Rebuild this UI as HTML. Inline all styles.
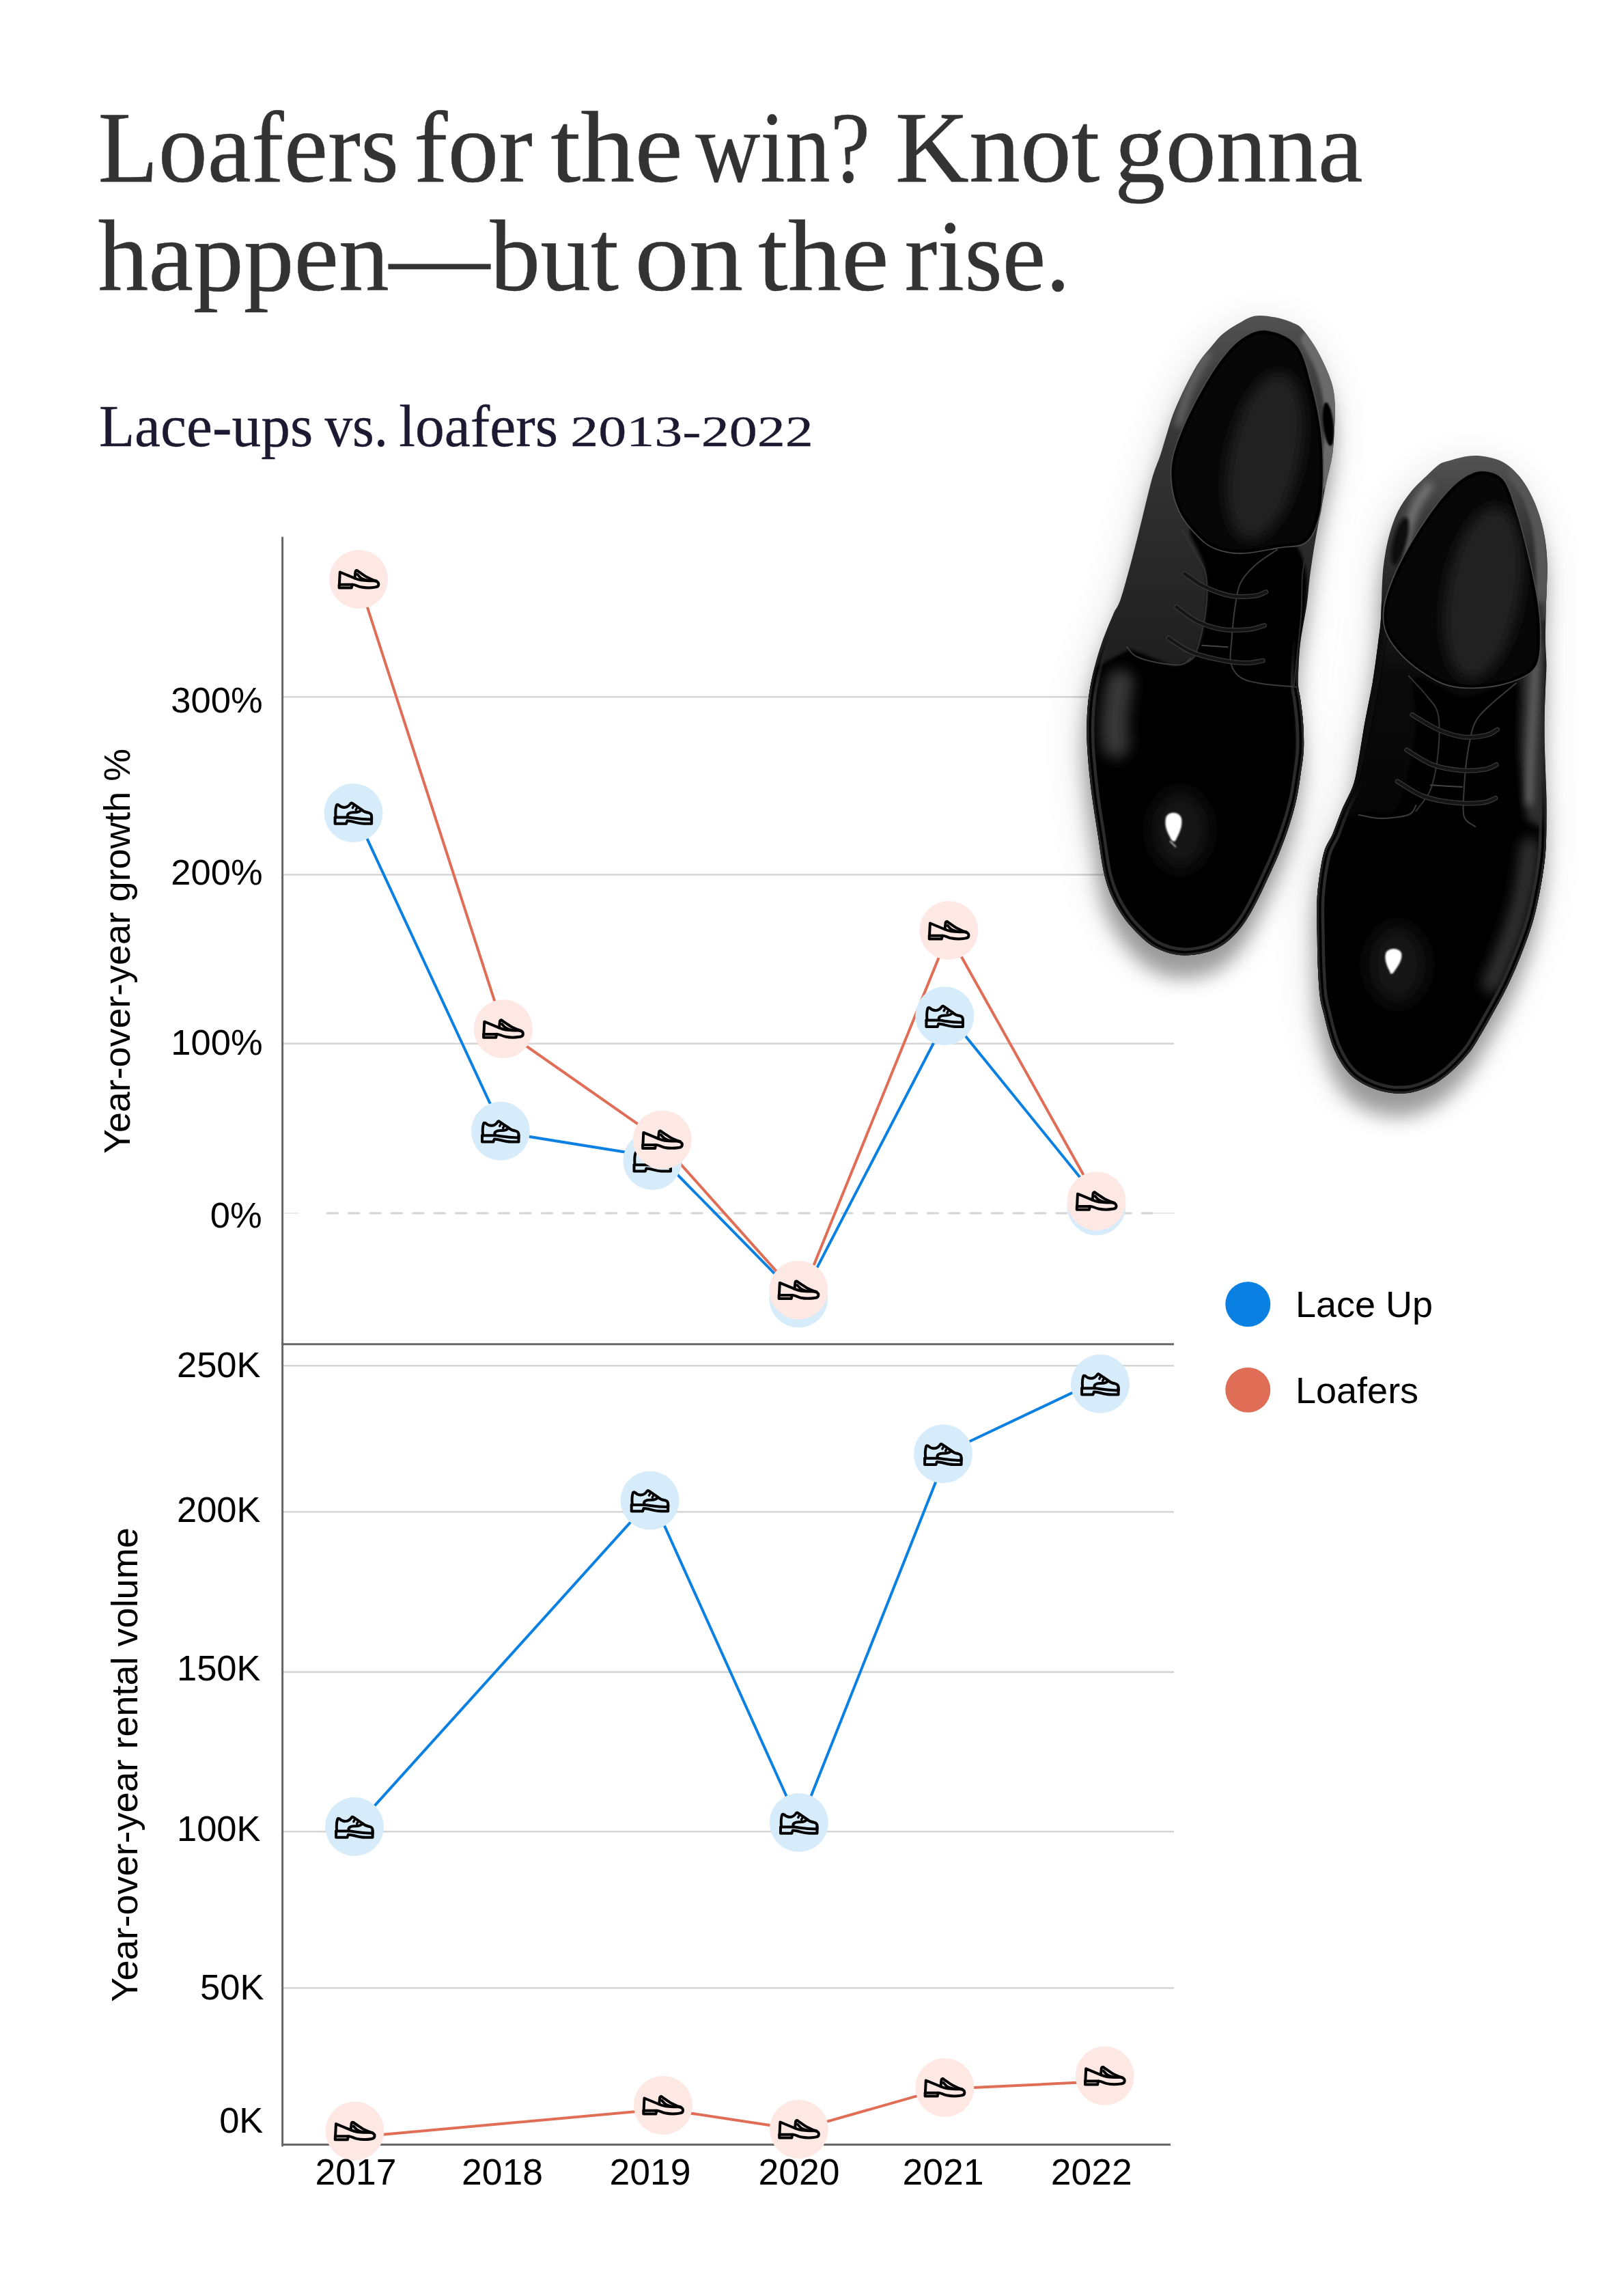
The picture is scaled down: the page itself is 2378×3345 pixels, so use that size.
<!DOCTYPE html>
<html lang="en"><head><meta charset="utf-8"><title>Loafers for the win? Knot gonna happen&#8212;but on the rise.</title>
<style>
html,body{margin:0;padding:0;background:#fff}
body{width:2378px;height:3345px;overflow:hidden;position:relative}
svg{position:absolute;left:0;top:0;display:block}
.sans{font-family:"Liberation Sans",Arial,Helvetica,sans-serif;fill:#000}
.serif{font-family:"Liberation Serif","Times New Roman",serif}
</style></head><body>
<svg width="2378" height="3345" viewBox="0 0 2378 3345">
<rect width="2378" height="3345" fill="#fff"/>
<g class="serif" fill="#333" stroke="#333" stroke-width="0.45" font-size="148">
<text y="266"><tspan x="143.6" textLength="440.5" lengthAdjust="spacingAndGlyphs">Loafers</tspan> <tspan x="605.7" textLength="174.2" lengthAdjust="spacingAndGlyphs">for</tspan> <tspan x="806.3" textLength="193.4" lengthAdjust="spacingAndGlyphs">the</tspan> <tspan x="1018.3" textLength="255.8" lengthAdjust="spacingAndGlyphs">win?</tspan> <tspan x="1310.8" textLength="299.6" lengthAdjust="spacingAndGlyphs">Knot</tspan> <tspan x="1632.1" textLength="363.6" lengthAdjust="spacingAndGlyphs">gonna</tspan></text>
<text y="424.6"><tspan x="143.6" textLength="762.4" lengthAdjust="spacingAndGlyphs">happen&#8212;but</tspan> <tspan x="929.6" textLength="158.7" lengthAdjust="spacingAndGlyphs">on</tspan> <tspan x="1110.1" textLength="191.6" lengthAdjust="spacingAndGlyphs">the</tspan> <tspan x="1324.8" textLength="242.2" lengthAdjust="spacingAndGlyphs">rise.</tspan></text>
</g>
<g class="serif" fill="#1d1930" stroke="#1d1930" stroke-width="0.35" font-size="86">
<text y="652.5"><tspan x="144.9" textLength="313.3" lengthAdjust="spacingAndGlyphs">Lace-ups</tspan> <tspan x="475.4" textLength="92.8" lengthAdjust="spacingAndGlyphs">vs.</tspan> <tspan x="584.2" textLength="232.9" lengthAdjust="spacingAndGlyphs">loafers</tspan> <tspan x="835.2" font-size="64" textLength="355.6" lengthAdjust="spacingAndGlyphs">2013-2022</tspan></text>
</g>
<g id="grid">
<line x1="414" x2="1719" y1="1020.3" y2="1020.3" stroke="#d5d5d5" stroke-width="2.6"/>
<line x1="414" x2="1719" y1="1280.5" y2="1280.5" stroke="#d5d5d5" stroke-width="2.6"/>
<line x1="414" x2="1719" y1="1527.8" y2="1527.8" stroke="#d5d5d5" stroke-width="2.6"/>
<line x1="416" x2="438" y1="1776" y2="1776" stroke="#ececec" stroke-width="2"/>
<line x1="479" x2="1690" y1="1776" y2="1776" stroke="#d5d5d5" stroke-width="3" stroke-dasharray="15.5 15.9" stroke-linecap="round"/>
<line x1="1690" x2="1719" y1="1776" y2="1776" stroke="#e8e8e8" stroke-width="2"/>
<line x1="414" x2="1719" y1="1999.3" y2="1999.3" stroke="#d5d5d5" stroke-width="2.6"/>
<line x1="414" x2="1719" y1="2213.2" y2="2213.2" stroke="#d5d5d5" stroke-width="2.6"/>
<line x1="414" x2="1719" y1="2447.6" y2="2447.6" stroke="#d5d5d5" stroke-width="2.6"/>
<line x1="414" x2="1719" y1="2681.3" y2="2681.3" stroke="#d5d5d5" stroke-width="2.6"/>
<line x1="414" x2="1719" y1="2910.2" y2="2910.2" stroke="#d5d5d5" stroke-width="2.6"/>
<line x1="413.6" x2="413.6" y1="787" y2="3141" stroke="#666" stroke-width="3" stroke-linecap="round"/>
<line x1="412" x2="1719" y1="1967.7" y2="1967.7" stroke="#666" stroke-width="3"/>
<line x1="412" x2="1714" y1="3139.5" y2="3139.5" stroke="#666" stroke-width="2.8"/>
</g>
<g id="shoes">
<defs><filter id="sh" x="-30%" y="-20%" width="160%" height="140%"><feGaussianBlur stdDeviation="14"/></filter><filter id="sh2" x="-40%" y="-20%" width="180%" height="140%"><feGaussianBlur stdDeviation="32"/></filter><filter id="b6" filterUnits="userSpaceOnUse" x="1450" y="380" width="928" height="1400"><feGaussianBlur stdDeviation="6"/></filter><filter id="b10" filterUnits="userSpaceOnUse" x="1450" y="380" width="928" height="1400"><feGaussianBlur stdDeviation="10"/></filter><filter id="b14" filterUnits="userSpaceOnUse" x="1450" y="380" width="928" height="1400"><feGaussianBlur stdDeviation="14"/></filter><filter id="b3" filterUnits="userSpaceOnUse" x="1450" y="380" width="928" height="1400"><feGaussianBlur stdDeviation="2.2"/></filter><filter id="b1" filterUnits="userSpaceOnUse" x="1450" y="380" width="928" height="1400"><feGaussianBlur stdDeviation="1.2"/></filter><linearGradient id="gL" gradientUnits="userSpaceOnUse" x1="0" y1="460" x2="0" y2="1100"><stop offset="0" stop-color="#525252"/><stop offset="0.2" stop-color="#3a3a3a"/><stop offset="0.5" stop-color="#2b2b2b"/><stop offset="0.8" stop-color="#1f1f1f"/><stop offset="1" stop-color="#101010"/></linearGradient><linearGradient id="gR" gradientUnits="userSpaceOnUse" x1="0" y1="670" x2="0" y2="1310"><stop offset="0" stop-color="#525252"/><stop offset="0.15" stop-color="#383838"/><stop offset="0.35" stop-color="#1e1e1e"/><stop offset="0.5" stop-color="#0a0a0a"/><stop offset="1" stop-color="#040404"/></linearGradient><path id="oL" d="M1837.6,462.5C1846.5,461.0 1858.0,462.9 1867.2,464.5C1876.4,466.1 1886.2,469.6 1892.8,472.4C1899.4,475.2 1901.0,475.1 1906.6,481.2C1912.2,487.3 1920.4,499.0 1926.3,508.8C1932.2,518.6 1937.8,530.4 1942.1,540.3C1946.4,550.1 1949.8,558.4 1951.9,567.9C1954.0,577.4 1954.6,587.6 1954.9,597.5C1955.2,607.4 1954.6,615.5 1953.9,627.0C1953.2,638.5 1952.9,653.3 1950.9,666.5C1948.9,679.7 1944.6,693.9 1942.0,706.4C1939.4,718.9 1937.5,729.9 1935.2,741.6C1933.0,753.3 1930.5,765.5 1928.5,776.8C1926.5,788.1 1924.8,797.6 1923.0,809.3C1921.2,821.0 1919.2,834.6 1917.6,847.2C1916.0,859.8 1915.7,870.0 1913.5,885.0C1911.3,900.0 1906.5,922.0 1904.5,937.0C1902.5,952.0 1902.1,963.8 1901.5,975.0C1900.9,986.2 1900.6,996.0 1901.0,1004.0C1901.4,1012.0 1902.9,1014.1 1904.1,1023.2C1905.3,1032.3 1907.3,1046.2 1908.1,1058.4C1908.9,1070.6 1909.5,1084.4 1909.0,1096.3C1908.5,1108.2 1906.8,1117.7 1905.0,1130.0C1903.2,1142.3 1901.4,1156.7 1898.4,1170.0C1895.5,1183.3 1891.6,1196.7 1887.3,1210.0C1883.0,1223.3 1878.0,1236.7 1872.5,1250.0C1867.0,1263.3 1859.9,1278.3 1854.5,1290.0C1849.1,1301.7 1844.8,1310.8 1840.0,1320.0C1835.2,1329.2 1830.8,1337.5 1826.0,1345.0C1821.2,1352.5 1816.2,1359.2 1811.0,1365.0C1805.8,1370.8 1800.5,1375.8 1795.0,1380.0C1789.5,1384.2 1784.2,1387.3 1778.0,1390.0C1771.8,1392.7 1765.2,1394.6 1758.0,1396.0C1750.8,1397.4 1742.5,1398.6 1735.0,1398.5C1727.5,1398.4 1720.5,1397.5 1713.0,1395.5C1705.5,1393.5 1697.0,1390.3 1690.0,1386.3C1683.0,1382.3 1677.9,1378.2 1670.9,1371.5C1663.9,1364.8 1654.7,1355.6 1647.8,1346.3C1640.9,1337.0 1634.4,1326.5 1629.3,1315.5C1624.2,1304.5 1620.6,1295.5 1617.0,1280.1C1613.4,1264.7 1610.9,1243.0 1607.8,1223.2C1604.7,1203.5 1601.1,1182.1 1598.5,1161.6C1595.9,1141.1 1593.6,1117.4 1592.4,1100.0C1591.2,1082.6 1591.2,1070.7 1591.5,1057.0C1591.8,1043.3 1592.7,1030.7 1594.5,1017.6C1596.3,1004.5 1599.1,991.3 1602.4,978.2C1605.7,965.1 1609.6,951.9 1614.2,938.8C1618.8,925.7 1625.5,909.8 1630.0,899.4C1634.5,889.0 1636.5,890.2 1641.1,876.5C1645.7,862.8 1652.5,837.0 1657.8,817.3C1663.0,797.6 1667.7,777.9 1672.6,758.2C1677.5,738.5 1683.0,714.4 1687.4,699.1C1691.8,683.8 1695.6,676.9 1699.0,666.5C1702.4,656.1 1704.9,646.9 1708.0,637.0C1711.1,627.1 1713.7,617.1 1717.4,607.3C1721.1,597.5 1725.4,587.9 1730.0,578.0C1734.6,568.1 1740.5,556.5 1745.0,548.2C1749.5,539.9 1752.4,534.6 1757.0,528.0C1761.6,521.4 1767.0,515.3 1772.6,508.8C1778.1,502.3 1783.4,495.0 1790.3,489.1C1797.2,483.2 1806.1,477.7 1814.0,473.3C1821.9,468.9 1828.7,464.0 1837.6,462.5Z"/><path id="oR" d="M2117.9,675.6C2125.2,673.4 2139.7,668.9 2149.5,667.7C2159.3,666.6 2168.1,667.1 2177.0,668.7C2185.9,670.4 2194.5,672.5 2202.7,677.6C2210.9,682.7 2219.4,690.8 2226.3,699.3C2233.2,707.8 2239.1,718.6 2244.0,728.8C2248.9,739.0 2252.8,749.8 2255.9,760.3C2259.0,770.8 2261.2,780.7 2262.8,791.9C2264.4,803.1 2265.4,814.8 2265.7,827.3C2266.0,839.8 2265.0,856.2 2264.7,866.7C2264.4,877.2 2264.0,878.1 2263.7,890.0C2263.4,901.9 2262.9,924.1 2263.0,938.0C2263.1,951.9 2264.4,961.5 2264.4,973.2C2264.4,985.0 2263.4,996.3 2263.0,1008.5C2262.6,1020.7 2261.9,1033.3 2261.7,1046.4C2261.5,1059.5 2261.5,1073.5 2261.7,1087.0C2261.9,1100.5 2262.6,1114.2 2263.0,1127.7C2263.4,1141.2 2264.2,1155.5 2264.4,1168.3C2264.6,1181.0 2264.7,1190.6 2264.4,1204.2C2264.2,1217.8 2264.4,1234.0 2262.9,1250.0C2261.4,1266.0 2258.7,1283.5 2255.6,1300.0C2252.5,1316.5 2249.4,1332.6 2244.5,1349.3C2239.6,1366.0 2232.7,1384.2 2226.4,1400.0C2220.2,1415.8 2214.2,1429.5 2207.0,1444.3C2199.8,1459.1 2191.0,1474.4 2183.0,1488.7C2175.0,1503.0 2164.8,1520.7 2159.0,1530.0C2153.2,1539.3 2152.1,1539.9 2148.0,1544.8C2143.9,1549.7 2139.5,1554.7 2134.6,1559.6C2129.7,1564.5 2124.8,1569.4 2118.4,1574.3C2112.0,1579.2 2104.6,1585.0 2096.2,1589.1C2087.8,1593.2 2076.9,1597.1 2068.0,1599.0C2059.1,1600.9 2050.8,1600.8 2043.0,1600.4C2035.2,1600.0 2028.0,1598.6 2021.0,1596.7C2014.0,1594.8 2007.9,1592.6 2001.3,1589.3C1994.7,1586.0 1987.5,1582.1 1981.6,1577.0C1975.6,1571.9 1970.4,1565.7 1965.6,1558.5C1960.8,1551.3 1956.1,1542.1 1952.6,1533.9C1949.1,1525.7 1946.9,1517.5 1944.6,1509.3C1942.2,1501.1 1940.5,1492.8 1938.5,1484.6C1936.5,1476.4 1934.3,1470.8 1932.9,1460.0C1931.5,1449.2 1930.7,1434.5 1930.0,1420.0C1929.3,1405.5 1929.0,1391.3 1928.8,1373.2C1928.6,1355.1 1927.3,1332.1 1928.8,1311.6C1930.3,1291.1 1934.2,1265.2 1938.0,1250.0C1941.8,1234.8 1947.0,1231.2 1951.5,1220.4C1956.0,1209.6 1960.0,1196.9 1965.0,1185.2C1970.0,1173.5 1977.3,1161.5 1981.3,1150.0C1985.2,1138.5 1985.8,1132.0 1988.7,1116.5C1991.6,1101.0 1995.0,1077.0 1998.5,1057.3C2002.0,1037.6 2006.7,1017.9 2010.0,998.2C2013.3,978.5 2016.2,954.6 2018.2,939.1C2020.2,923.6 2021.0,920.9 2022.0,905.5C2023.0,890.1 2023.2,862.6 2024.3,847.0C2025.3,831.4 2026.5,822.8 2028.3,811.6C2030.1,800.4 2032.1,790.5 2035.2,780.0C2038.3,769.5 2041.8,758.7 2047.0,748.5C2052.2,738.3 2059.5,727.9 2066.7,719.0C2073.9,710.1 2083.8,701.6 2090.3,695.3C2096.9,689.0 2101.4,684.3 2106.0,681.0C2110.6,677.7 2110.7,677.8 2117.9,675.6Z"/><path id="pL" d="M1855.3,484.2C1868.4,486.0 1887.9,492.3 1898.7,505.9C1909.5,519.4 1914.4,544.3 1920.3,565.5C1926.2,586.7 1931.2,610.6 1933.9,633.2C1936.6,655.8 1937.0,680.6 1936.6,700.9C1936.1,721.2 1935.3,739.8 1931.2,755.1C1927.1,770.5 1922.1,785.3 1912.2,793.0C1902.3,800.7 1887.4,798.5 1871.6,801.2C1855.8,803.9 1833.2,809.3 1817.4,809.3C1801.6,809.3 1788.0,806.2 1776.7,801.2C1765.4,796.2 1757.8,788.1 1749.7,779.5C1741.6,770.9 1733.4,760.5 1728.0,749.7C1722.6,738.9 1718.9,727.1 1717.1,714.5C1715.3,701.9 1714.4,688.7 1717.1,673.8C1719.8,658.9 1726.2,642.2 1733.4,625.1C1740.6,608.0 1751.0,587.6 1760.5,570.9C1770.0,554.2 1780.4,537.4 1790.3,524.8C1800.2,512.1 1809.3,501.8 1820.1,495.0C1830.9,488.2 1842.2,482.4 1855.3,484.2Z"/><path id="pR" d="M2170.9,690.1C2180.4,690.6 2192.6,692.6 2200.7,702.3C2208.9,712.0 2213.8,730.8 2219.7,748.4C2225.6,766.0 2231.0,787.7 2236.0,808.0C2240.9,828.3 2246.3,850.9 2249.5,870.3C2252.7,889.7 2254.9,907.3 2254.9,924.5C2254.9,941.6 2255.4,961.5 2249.5,973.2C2243.6,985.0 2232.8,989.5 2219.7,994.9C2206.6,1000.3 2187.2,1004.4 2170.9,1005.8C2154.7,1007.1 2136.6,1006.7 2122.2,1003.0C2107.7,999.4 2096.0,991.8 2084.2,984.1C2072.5,976.4 2060.8,966.9 2051.7,957.0C2042.7,947.1 2034.1,935.8 2030.0,924.5C2026.0,913.2 2025.5,902.3 2027.3,889.3C2029.1,876.2 2035.0,860.4 2040.9,845.9C2046.8,831.5 2054.4,817.0 2062.6,802.6C2070.7,788.1 2080.6,772.3 2089.7,759.2C2098.7,746.1 2107.7,733.9 2116.7,724.0C2125.8,714.1 2134.8,705.2 2143.8,699.6C2152.9,694.0 2161.4,689.7 2170.9,690.1Z"/><clipPath id="cl"><use href="#oL"/></clipPath><clipPath id="cr"><use href="#oR"/></clipPath><clipPath id="col"><use href="#pL"/></clipPath><clipPath id="cor"><use href="#pR"/></clipPath></defs>
<use href="#oL" fill="#000" opacity="0.13" filter="url(#sh2)" transform="translate(-6,14)"/>
<use href="#oL" fill="#000" opacity="0.34" filter="url(#sh)" transform="translate(-3,34)"/>
<use href="#oL" fill="url(#gL)"/>
<g clip-path="url(#cl)"><path d="M1743.8,774.0C1752.4,770.9 1790.6,804.5 1814.0,806.8C1837.4,809.1 1867.8,783.0 1884.2,788.1C1900.5,793.1 1908.3,814.6 1912.2,837.2C1916.1,859.8 1910.3,897.7 1907.6,923.8C1904.8,949.9 1898.6,967.9 1895.9,994.0C1893.1,1020.0 1932.1,1065.7 1891.2,1080.1C1850.2,1094.4 1689.2,1096.4 1650.2,1080.1C1611.2,1063.8 1643.6,999.4 1657.2,982.3C1670.9,965.2 1715.3,985.0 1732.1,977.6C1748.9,970.2 1752.0,954.6 1757.8,937.8C1763.7,921.1 1766.4,895.7 1767.2,877.0C1768.0,858.3 1766.4,842.7 1762.5,825.5C1758.6,808.4 1735.2,777.2 1743.8,774.0Z" fill="#050505" filter="url(#b3)"/><path d="M1580,990 L1655,950 L1720,976 L1760,960 L1905,1003 L1930,1000 L1930,1420 L1580,1420 Z" fill="#040404" filter="url(#b3)"/><path d="M1640.0,1000.0C1639.0,1005.8 1635.3,1024.2 1634.0,1035.0C1632.7,1045.8 1632.0,1055.8 1632.0,1065.0C1632.0,1074.2 1633.7,1085.8 1634.0,1090.0" fill="none" stroke="#383838" stroke-width="40" stroke-linecap="round" filter="url(#b10)"/><path d="M1899.0,1010.0C1899.7,1018.3 1902.3,1043.3 1903.0,1060.0C1903.7,1076.7 1903.8,1093.3 1903.0,1110.0C1902.2,1126.7 1898.8,1151.7 1898.0,1160.0" fill="none" stroke="#3c3c3c" stroke-width="9" filter="url(#b3)"/><path d="M1768.0,518.0C1765.0,523.3 1755.3,538.8 1750.0,550.0C1744.7,561.2 1740.0,573.3 1736.0,585.0C1732.0,596.7 1727.7,614.2 1726.0,620.0" fill="none" stroke="#707070" stroke-width="9" stroke-linecap="round" filter="url(#b6)"/><path d="M1916.0,497.0C1919.0,502.5 1929.2,518.7 1934.0,530.0C1938.8,541.3 1942.3,553.3 1945.0,565.0C1947.7,576.7 1949.2,587.5 1950.0,600.0C1950.8,612.5 1950.8,627.5 1950.0,640.0C1949.2,652.5 1947.0,664.2 1945.0,675.0C1943.0,685.8 1939.2,700.0 1938.0,705.0" fill="none" stroke="#6a6a6a" stroke-width="22" stroke-linecap="round" filter="url(#b3)"/><ellipse cx="1945" cy="621" rx="7.5" ry="32" fill="#000" transform="rotate(-6 1945 621)" filter="url(#b1)"/>
<linearGradient id="fdL" gradientUnits="userSpaceOnUse" x1="0" y1="930" x2="0" y2="1020"><stop offset="0" stop-color="#000"/><stop offset="1" stop-color="#fff"/></linearGradient><mask id="rimL" maskUnits="userSpaceOnUse" x="1500" y="400" width="900" height="1300"><rect x="1500" y="400" width="900" height="1300" fill="url(#fdL)"/></mask>
<g mask="url(#rimL)" fill="none"><use href="#oL" stroke="#2b2b2b" stroke-width="22"/><use href="#oL" stroke="#000" stroke-width="13"/><use href="#oL" stroke="#242424" stroke-width="6"/></g>
<ellipse cx="1728" cy="1215" rx="42" ry="58" fill="#1c1c1c" filter="url(#b14)" opacity="0.8"/><path d="M1707,1198 C1709,1187 1727,1187 1730,1198 C1732,1209 1727,1219 1723,1227 C1721,1234 1716,1233 1713,1225 C1708,1216 1705,1207 1707,1198Z" fill="#fff" filter="url(#b1)"/><path d="M1713,1231 L1722,1240" stroke="#bbb" stroke-width="2" filter="url(#b1)"/>
</g>
<use href="#pL" fill="#070707" stroke="#4a4a4a" stroke-width="3.5"/>
<g clip-path="url(#col)"><use href="#pL" fill="none" stroke="#000" stroke-width="9"/><ellipse cx="1852" cy="668" rx="52" ry="124" transform="rotate(12 1852 668)" fill="#242424" filter="url(#b10)"/></g>
<path d="M1650.2,947.2C1652.5,949.5 1656.4,957.3 1664.2,961.2C1672.0,965.1 1686.1,968.6 1697.0,970.6C1707.9,972.5 1721.9,974.1 1729.7,972.9C1737.5,971.7 1741.4,965.1 1743.8,963.6" fill="none" stroke="#3c3c3c" stroke-width="2" stroke-linecap="round"/><path d="M1729.7,774.0C1732.9,779.5 1742.6,796.3 1748.5,806.8C1754.3,817.3 1761.7,825.5 1764.8,837.2C1768.0,848.9 1768.0,862.6 1767.2,877.0C1766.4,891.4 1763.3,909.7 1760.2,923.8C1757.0,937.8 1753.5,953.0 1748.5,961.2C1743.4,969.4 1732.9,971.0 1729.7,972.9" fill="none" stroke="#333" stroke-width="2" stroke-linecap="round"/><path d="M1870.1,804.5C1864.7,808.4 1846.3,819.7 1837.4,827.9C1828.4,836.0 1821.2,843.1 1816.3,853.6C1811.4,864.1 1810.3,877.0 1808.1,891.0C1806.0,905.1 1804.4,924.6 1803.4,937.8C1802.5,951.1 1800.1,961.6 1802.3,970.6C1804.4,979.5 1808.5,986.6 1816.3,991.6C1824.1,996.7 1835.4,998.7 1849.1,1001.0C1862.7,1003.3 1890.0,1004.9 1898.2,1005.7" fill="none" stroke="#3a3a3a" stroke-width="2" stroke-linecap="round"/><path d="M1916.9,795.1C1915.4,802.1 1909.5,819.7 1907.6,837.2C1905.6,854.8 1906.8,878.2 1905.2,900.4C1903.7,922.6 1900.0,953.0 1898.2,970.6C1896.4,988.1 1895.3,999.8 1894.7,1005.7" fill="none" stroke="#2a2a2a" stroke-width="2" stroke-linecap="round"/><path d="M1734.4,839.6C1739.1,842.7 1751.2,852.8 1762.5,858.3C1773.8,863.7 1789.8,870.0 1802.3,872.3C1814.8,874.6 1828.8,873.3 1837.4,872.3C1845.9,871.3 1851.0,867.4 1853.7,866.5" fill="none" stroke="#3a3a3a" stroke-width="7" stroke-linecap="round"/><path d="M1734.4,839.6C1739.1,842.7 1751.2,852.8 1762.5,858.3C1773.8,863.7 1789.8,870.0 1802.3,872.3C1814.8,874.6 1828.8,873.3 1837.4,872.3C1845.9,871.3 1851.0,867.4 1853.7,866.5" fill="none" stroke="#151515" stroke-width="4.5" stroke-linecap="round"/><path d="M1722.7,888.7C1727.8,892.2 1741.8,904.3 1753.1,909.7C1764.4,915.2 1778.1,919.5 1790.6,921.4C1803.1,923.4 1817.9,922.4 1828.0,921.4C1838.2,920.5 1847.5,916.6 1851.4,915.6" fill="none" stroke="#3a3a3a" stroke-width="7" stroke-linecap="round"/><path d="M1722.7,888.7C1727.8,892.2 1741.8,904.3 1753.1,909.7C1764.4,915.2 1778.1,919.5 1790.6,921.4C1803.1,923.4 1817.9,922.4 1828.0,921.4C1838.2,920.5 1847.5,916.6 1851.4,915.6" fill="none" stroke="#151515" stroke-width="4.5" stroke-linecap="round"/><path d="M1711.0,934.3C1716.5,937.6 1731.3,948.9 1743.8,954.2C1756.3,959.5 1772.6,963.2 1785.9,965.9C1799.2,968.6 1812.8,970.4 1823.3,970.6C1833.9,970.8 1844.8,967.7 1849.1,967.1" fill="none" stroke="#3a3a3a" stroke-width="7" stroke-linecap="round"/><path d="M1711.0,934.3C1716.5,937.6 1731.3,948.9 1743.8,954.2C1756.3,959.5 1772.6,963.2 1785.9,965.9C1799.2,968.6 1812.8,970.4 1823.3,970.6C1833.9,970.8 1844.8,967.7 1849.1,967.1" fill="none" stroke="#151515" stroke-width="4.5" stroke-linecap="round"/><path d="M1760.2,944.8C1766.4,945.2 1791.4,946.8 1797.6,947.2" fill="none" stroke="#444" stroke-width="2" stroke-linecap="round"/>
<use href="#oR" fill="#000" opacity="0.13" filter="url(#sh2)" transform="translate(-6,14)"/>
<use href="#oR" fill="#000" opacity="0.34" filter="url(#sh)" transform="translate(-3,34)"/>
<use href="#oR" fill="url(#gR)"/>
<g clip-path="url(#cr)"><path d="M2073.4,992.2C2085.1,985.4 2119.5,1017.9 2143.8,1019.3C2168.2,1020.7 2201.6,995.8 2219.7,1000.3C2237.8,1004.9 2247.2,1025.2 2252.2,1046.4C2257.2,1067.6 2250.0,1100.4 2249.5,1127.7C2249.0,1154.9 2249.5,1178.4 2249.5,1210.0C2249.5,1241.6 2296.5,1299.4 2249.5,1317.3C2202.5,1335.2 2011.1,1337.6 1967.7,1317.3C1924.4,1297.0 1977.2,1217.1 1989.4,1195.4C2001.6,1173.7 2028.7,1198.6 2040.9,1187.3C2053.1,1176.0 2057.1,1148.9 2062.6,1127.7C2068.0,1106.4 2071.6,1082.5 2073.4,1059.9C2075.2,1037.4 2061.7,999.0 2073.4,992.2Z" fill="#050505" filter="url(#b3)"/><path d="M1900,1230 L1990,1190 L2040,1200 L2100,1190 L2240,1210 L2290,1200 L2290,1620 L1900,1620 Z" fill="#040404" filter="url(#b3)"/><path d="M2027.3,883.8C2026.0,895.1 2022.4,929.0 2019.2,951.6C2016.0,974.1 2012.4,996.7 2008.4,1019.3C2004.3,1041.9 1999.8,1064.5 1994.8,1087.0C1989.9,1109.6 1984.4,1134.4 1978.6,1154.8C1972.7,1175.1 1962.8,1199.9 1959.6,1209.0" fill="none" stroke="#101010" stroke-width="14" filter="url(#b3)"/><path d="M2092.0,712.0C2089.0,716.7 2079.0,729.5 2074.0,740.0C2069.0,750.5 2065.0,763.3 2062.0,775.0C2059.0,786.7 2057.0,804.2 2056.0,810.0" fill="none" stroke="#7a7a7a" stroke-width="12" stroke-linecap="round" filter="url(#b6)"/><ellipse cx="2050" cy="792" rx="10" ry="36" fill="#0a0a0a" transform="rotate(14 2050 792)" filter="url(#b3)"/><path d="M2216.0,692.0C2219.7,697.7 2232.2,713.8 2238.0,726.0C2243.8,738.2 2247.8,751.0 2251.0,765.0C2254.2,779.0 2255.8,794.2 2257.0,810.0C2258.2,825.8 2258.2,845.0 2258.0,860.0C2257.8,875.0 2256.3,893.3 2256.0,900.0" fill="none" stroke="#555" stroke-width="18" stroke-linecap="round" filter="url(#b3)"/><path d="M2240.0,1240.0C2239.0,1248.3 2237.2,1272.5 2234.0,1290.0C2230.8,1307.5 2226.2,1327.5 2221.0,1345.0C2215.8,1362.5 2209.2,1379.2 2203.0,1395.0C2196.8,1410.8 2187.2,1432.5 2184.0,1440.0" fill="none" stroke="#363636" stroke-width="26" stroke-linecap="round" filter="url(#b10)"/><path d="M2215,890 L2262,880 L2266,1215 L2235,1200 L2225,1100 L2228,980 Z" fill="#2e2e2e" filter="url(#b6)"/><path d="M2249.0,945.0C2248.7,954.2 2247.8,980.8 2247.0,1000.0C2246.2,1019.2 2245.0,1040.0 2244.0,1060.0C2243.0,1080.0 2241.8,1100.8 2241.0,1120.0C2240.2,1139.2 2239.3,1165.8 2239.0,1175.0" fill="none" stroke="#707070" stroke-width="9" stroke-linecap="round" filter="url(#b6)"/>
<linearGradient id="fdR" gradientUnits="userSpaceOnUse" x1="0" y1="1140" x2="0" y2="1230"><stop offset="0" stop-color="#000"/><stop offset="1" stop-color="#fff"/></linearGradient><mask id="rimR" maskUnits="userSpaceOnUse" x="1500" y="400" width="900" height="1300"><rect x="1500" y="400" width="900" height="1300" fill="url(#fdR)"/></mask>
<g mask="url(#rimR)" fill="none"><use href="#oR" stroke="#2b2b2b" stroke-width="22"/><use href="#oR" stroke="#000" stroke-width="13"/><use href="#oR" stroke="#242424" stroke-width="6"/></g>
<ellipse cx="2046" cy="1412" rx="42" ry="58" fill="#1c1c1c" filter="url(#b14)" opacity="0.8"/><path d="M2029,1396 C2032,1387 2048,1387 2052,1395 C2054,1404 2048,1413 2043,1420 C2040,1426 2036,1428 2035,1422 C2030,1413 2027,1404 2029,1396Z" fill="#fff" filter="url(#b1)"/>
</g>
<use href="#pR" fill="#070707" stroke="#4a4a4a" stroke-width="3.5"/>
<g clip-path="url(#cor)"><use href="#pR" fill="none" stroke="#000" stroke-width="9"/><ellipse cx="2172" cy="868" rx="54" ry="128" transform="rotate(10 2172 868)" fill="#242424" filter="url(#b10)"/></g>
<path d="M1989.4,1192.7C1994.8,1193.6 2009.7,1198.1 2021.9,1198.1C2034.1,1198.1 2054.0,1195.9 2062.6,1192.7C2071.1,1189.5 2071.6,1181.4 2073.4,1179.1" fill="none" stroke="#3c3c3c" stroke-width="2" stroke-linecap="round"/><path d="M2062.6,989.5C2067.1,994.5 2082.4,1009.8 2089.7,1019.3C2096.9,1028.8 2103.2,1032.8 2105.9,1046.4C2108.6,1059.9 2107.7,1082.5 2105.9,1100.6C2104.1,1118.6 2100.5,1140.3 2095.1,1154.8C2089.7,1169.2 2077.0,1181.9 2073.4,1187.3" fill="none" stroke="#333" stroke-width="2" stroke-linecap="round"/><path d="M2219.7,1000.3C2213.8,1005.3 2194.4,1020.7 2184.5,1030.1C2174.5,1039.6 2166.0,1045.5 2160.1,1057.2C2154.2,1069.0 2152.0,1084.3 2149.3,1100.6C2146.5,1116.8 2144.7,1139.0 2143.8,1154.8C2142.9,1170.6 2141.1,1186.2 2143.8,1195.4C2146.5,1204.6 2157.4,1207.6 2160.1,1210.0" fill="none" stroke="#3a3a3a" stroke-width="2" stroke-linecap="round"/><path d="M2068.0,1046.4C2074.3,1050.0 2093.3,1062.6 2105.9,1068.1C2118.5,1073.5 2132.1,1077.6 2143.8,1078.9C2155.6,1080.3 2168.2,1078.0 2176.3,1076.2C2184.5,1074.4 2189.9,1069.4 2192.6,1068.1" fill="none" stroke="#3a3a3a" stroke-width="7" stroke-linecap="round"/><path d="M2068.0,1046.4C2074.3,1050.0 2093.3,1062.6 2105.9,1068.1C2118.5,1073.5 2132.1,1077.6 2143.8,1078.9C2155.6,1080.3 2168.2,1078.0 2176.3,1076.2C2184.5,1074.4 2189.9,1069.4 2192.6,1068.1" fill="none" stroke="#151515" stroke-width="4.5" stroke-linecap="round"/><path d="M2059.8,1097.9C2066.2,1101.5 2084.7,1114.6 2097.8,1119.5C2110.9,1124.5 2125.8,1126.5 2138.4,1127.7C2151.1,1128.8 2164.8,1127.7 2173.6,1126.3C2182.4,1125.0 2188.3,1120.7 2191.2,1119.5" fill="none" stroke="#3a3a3a" stroke-width="7" stroke-linecap="round"/><path d="M2059.8,1097.9C2066.2,1101.5 2084.7,1114.6 2097.8,1119.5C2110.9,1124.5 2125.8,1126.5 2138.4,1127.7C2151.1,1128.8 2164.8,1127.7 2173.6,1126.3C2182.4,1125.0 2188.3,1120.7 2191.2,1119.5" fill="none" stroke="#151515" stroke-width="4.5" stroke-linecap="round"/><path d="M2046.3,1143.9C2052.6,1147.5 2070.2,1160.4 2084.2,1165.6C2098.2,1170.8 2115.8,1173.5 2130.3,1175.1C2144.7,1176.7 2161.0,1176.2 2170.9,1175.1C2180.9,1174.0 2186.7,1169.4 2189.9,1168.3" fill="none" stroke="#3a3a3a" stroke-width="7" stroke-linecap="round"/><path d="M2046.3,1143.9C2052.6,1147.5 2070.2,1160.4 2084.2,1165.6C2098.2,1170.8 2115.8,1173.5 2130.3,1175.1C2144.7,1176.7 2161.0,1176.2 2170.9,1175.1C2180.9,1174.0 2186.7,1169.4 2189.9,1168.3" fill="none" stroke="#151515" stroke-width="4.5" stroke-linecap="round"/><path d="M2095.1,1149.3C2102.7,1149.8 2133.5,1151.6 2141.1,1152.1" fill="none" stroke="#444" stroke-width="2" stroke-linecap="round"/>
</g>
<g id="lines"><polyline points="522.5,1195.4 737.3,1657.9 967.9,1695.0 1171.9,1902.8 1388.5,1485.6 1610.0,1758.7" fill="none" stroke="#0b80e3" stroke-width="4" stroke-linejoin="round"/><polyline points="530.0,864.5 738.2,1508.6 961.3,1664.7 1172.0,1900.3 1388.9,1366.8 1608.0,1758.2" fill="none" stroke="#e06d55" stroke-width="4" stroke-linejoin="round"/><polyline points="524.0,2670.6 954.8,2193.3 1170.7,2671.8 1387.7,2125.3 1616.0,2017.1" fill="none" stroke="#0b80e3" stroke-width="4" stroke-linejoin="round"/><polyline points="519.5,3128.6 971.0,3087.5 1169.1,3117.6 1378.4,3058.2 1617.7,3046.8" fill="none" stroke="#e06d55" stroke-width="4" stroke-linejoin="round"/></g>
<g id="marks"><defs><g id="lace" fill="none" stroke="#000" stroke-width="4" stroke-linejoin="round" stroke-linecap="round"><path d="M-25.8,6 C-26.4,0 -26.4,-6 -24.8,-11 Q-24.1,-12.8 -22,-11.8 C-17,-6.5 -9,-6.5 -4.6,-13 Q-3.2,-15.2 -1.6,-14 L11.8,-4.8 C15,-2 19,-0.6 22,-0.2 Q26.6,0.8 26.6,5.5 V9"/><path d="M-26.9,6.4 H-8 C0,7 8,9.8 26.6,9.6"/><path d="M-26.9,6.4 V15.7 H-10.6 L-9,11.6 C-1,11.8 5,15.7 16,15.7 H26.6 V6"/><path d="M-8,5.6 C-10,1.5 -6,-0.7 0,-0.8 C6,-0.6 10,-1.5 11.8,-4.8"/><path d="M-0.2,-9.2 L-1.2,-7.4 M4.6,-6.2 L3.6,-4.4" stroke-width="3.4"/></g><g id="loaf" fill="none" stroke="#000" stroke-width="4" stroke-linejoin="round" stroke-linecap="round"><path d="M-27.5,-10.5 L-5.8,-1.5 C0,1 9,2.8 20.9,2 C26,2.4 29.1,4.5 29.1,7 C29.1,10 27,11.4 24,11.6 C18,12.6 9,12.6 3,11.3 C-3,9.8 -5,7.7 -9.4,7.7 L-28.4,7.7 Z"/><path d="M-28.7,7.7 V12.6 H-10.6 L-9.4,7.7"/><path d="M-5.8,-1.5 L-4.9,-10.8 Q-4.4,-13.6 -2.2,-12.6"/><path d="M-2.2,-12.6C-1.2,-11.9 1.3,-10.2 3.7,-8.6C6.1,-7.0 9.4,-4.5 12.3,-2.9C15.2,-1.3 18.6,0.1 20.9,1.0C23.2,1.9 25.2,2.3 26.1,2.6"/><path d="M-1.9,-7.1C-1.1,-6.3 1.1,-3.5 2.8,-2.2C4.5,-1.0 6.4,-0.2 8.0,0.4C9.7,1.1 11.9,1.5 12.7,1.7"/></g></defs><g transform="translate(517.5,1190.0)"><circle r="43" fill="#d6ecfb"/><use href="#lace"/></g><g transform="translate(732.9,1655.8)"><circle r="43" fill="#d6ecfb"/><use href="#lace"/></g><g transform="translate(955.4,1698.9)"><circle r="43" fill="#d6ecfb"/><use href="#lace"/></g><g transform="translate(1169.3,1900.5)"><circle r="43" fill="#d6ecfb"/><use href="#lace"/></g><g transform="translate(1383.3,1487.2)"><circle r="43" fill="#d6ecfb"/><use href="#lace"/></g><g transform="translate(1605.5,1765.4)"><circle r="43" fill="#d6ecfb"/><use href="#lace"/></g><g transform="translate(525.3,848.0)"><circle r="43" fill="#fee8e3"/><use href="#loaf"/></g><g transform="translate(736.8,1506.2)"><circle r="43" fill="#fee8e3"/><use href="#loaf"/></g><g transform="translate(969.8,1668.4)"><circle r="43" fill="#fee8e3"/><use href="#loaf"/></g><g transform="translate(1169.3,1888.4)"><circle r="43" fill="#fee8e3"/><use href="#loaf"/></g><g transform="translate(1389.4,1362.0)"><circle r="43" fill="#fee8e3"/><use href="#loaf"/></g><g transform="translate(1605.5,1758.2)"><circle r="43" fill="#fee8e3"/><use href="#loaf"/></g><g transform="translate(519.0,2674.1)"><circle r="43" fill="#d6ecfb"/><use href="#lace"/></g><g transform="translate(951.6,2196.5)"><circle r="43" fill="#d6ecfb"/><use href="#lace"/></g><g transform="translate(1169.9,2668.0)"><circle r="43" fill="#d6ecfb"/><use href="#lace"/></g><g transform="translate(1381.0,2128.3)"><circle r="43" fill="#d6ecfb"/><use href="#lace"/></g><g transform="translate(1611.0,2025.8)"><circle r="43" fill="#d6ecfb"/><use href="#lace"/></g><g transform="translate(519.5,3119.6)"><circle r="43" fill="#fee8e3"/><use href="#loaf"/></g><g transform="translate(971.0,3082.0)"><circle r="43" fill="#fee8e3"/><use href="#loaf"/></g><g transform="translate(1169.9,3117.0)"><circle r="43" fill="#fee8e3"/><use href="#loaf"/></g><g transform="translate(1383.3,3056.0)"><circle r="43" fill="#fee8e3"/><use href="#loaf"/></g><g transform="translate(1617.7,3038.8)"><circle r="43" fill="#fee8e3"/><use href="#loaf"/></g></g>
<g class="sans">
<text x="384.6" y="1043.4" text-anchor="end" font-size="52.5">300%</text>
<text x="384.6" y="1295.3" text-anchor="end" font-size="52.5">200%</text>
<text x="384.6" y="1544.3" text-anchor="end" font-size="52.5">100%</text>
<text x="383.7" y="1796.5" text-anchor="end" font-size="52.5">0%</text>
<text x="381.6" y="2016" text-anchor="end" font-size="52.5">250K</text>
<text x="381.6" y="2228" text-anchor="end" font-size="52.5">200K</text>
<text x="381.6" y="2459.5" text-anchor="end" font-size="52.5">150K</text>
<text x="381.6" y="2695" text-anchor="end" font-size="52.5">100K</text>
<text x="386.5" y="2926.5" text-anchor="end" font-size="52.5">50K</text>
<text x="385.4" y="3122" text-anchor="end" font-size="52.5">0K</text>
<text x="521" y="3198.2" text-anchor="middle" font-size="53.5">2017</text>
<text x="735.5" y="3198.2" text-anchor="middle" font-size="53.5">2018</text>
<text x="952" y="3198.2" text-anchor="middle" font-size="53.5">2019</text>
<text x="1170" y="3198.2" text-anchor="middle" font-size="53.5">2020</text>
<text x="1381" y="3198.2" text-anchor="middle" font-size="53.5">2021</text>
<text x="1598.3" y="3198.2" text-anchor="middle" font-size="53.5">2022</text>
<text transform="translate(190,1392.5) rotate(-90)" text-anchor="middle" font-size="54" textLength="593" lengthAdjust="spacingAndGlyphs">Year-over-year growth %</text>
<text transform="translate(200.5,2583.5) rotate(-90)" text-anchor="middle" font-size="54">Year-over-year rental volume</text>
<circle cx="1827.3" cy="1909.2" r="33" fill="#0b80e3"/><text x="1897" y="1928" font-size="54">Lace Up</text>
<circle cx="1827.3" cy="2034.7" r="33" fill="#e06d55"/><text x="1897" y="2053.5" font-size="54">Loafers</text>
</g>
</svg>
</body></html>
